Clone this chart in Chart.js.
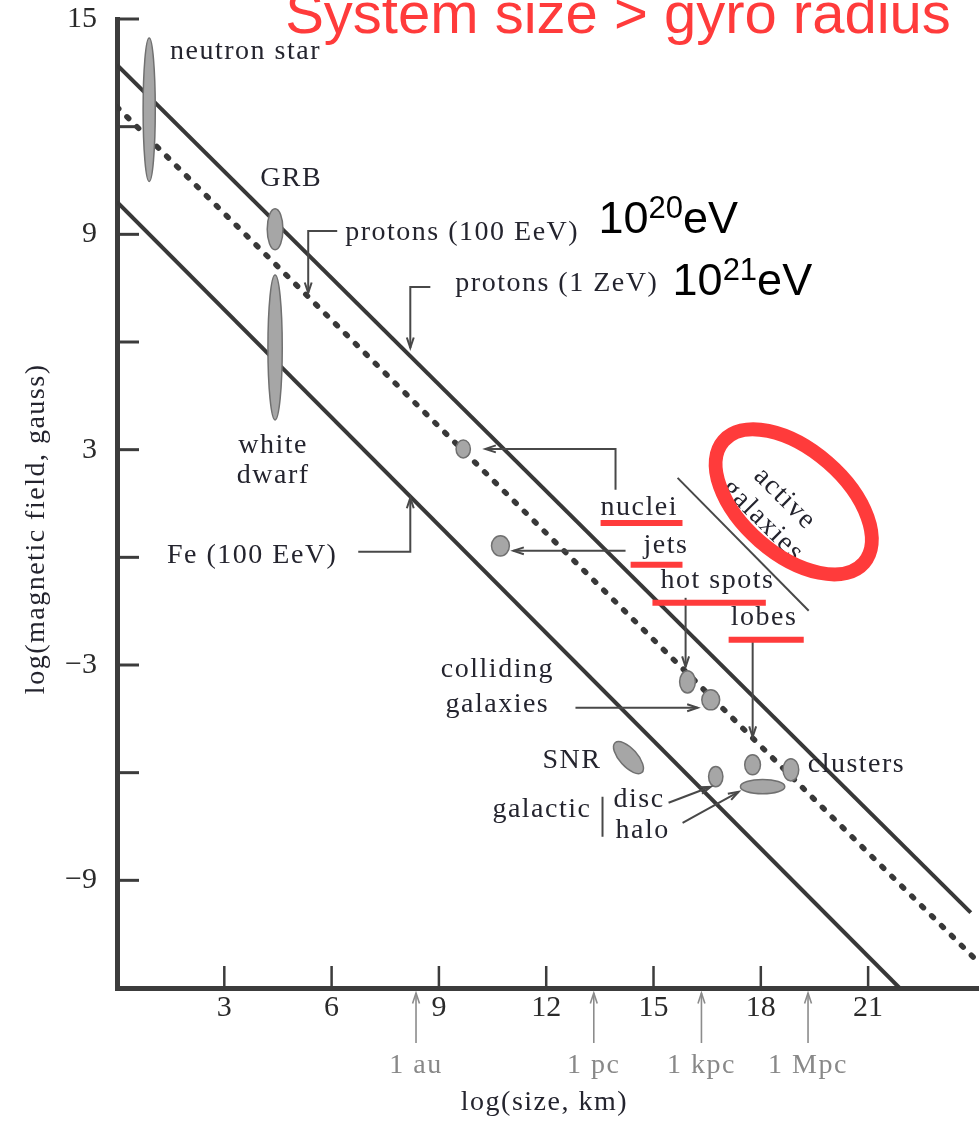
<!DOCTYPE html>
<html>
<head>
<meta charset="utf-8">
<script src="https://cdn.jsdelivr.net/npm/chart.js@4.4.1/dist/chart.umd.min.js"></script>
<style>
  html, body { margin: 0; padding: 0; background: #fff; }
  canvas { display: block; }
</style>
</head>
<body>
<canvas id="hillas" width="979" height="1121"></canvas>
<script>
// Hillas diagram: size of candidate accelerators against their magnetic field

// Axis ticks
const xTickValues = [3, 6, 9, 12, 15, 18, 21];
const xTickLabels = ['3', '6', '9', '12', '15', '18', '21'];
const yTickValues = [15, 12, 9, 6, 3, 0, -3, -6, -9];
const yTickLabels = ['15', '', '9', '', '3', '', '\u22123', '', '\u22129'];

// Maximum-energy lines, end points as [log size, log B]
const protons1ZeV   = [[0, 13.72], [23.87, -9.90]];
const protons100EeV = [[0, 12.55], [24.0, -11.2]];
const iron100EeV    = [[0, 9.9], [21.88, -12]];

// Source classes: centre and half-extent in log size / log B, tilt in degrees
const sourceNames = ['neutron star', 'GRB', 'white dwarf', 'nuclei', 'jets', 'hot spots',
                     'colliding galaxies', 'SNR', 'disc', 'halo', 'lobes', 'clusters'];
const sourceX     = [0.90, 4.42, 4.42, 9.68, 10.72, 15.95, 16.60, 14.30, 16.74, 18.05, 17.77, 18.84];
const sourceY     = [12.47, 9.14, 5.85, 3.02, 0.32, -3.47, -3.97, -5.58, -6.11, -6.39, -5.78, -5.92];
const sourceHalfX = [0.17, 0.22, 0.20, 0.20, 0.25, 0.22, 0.25, 0.56, 0.20, 0.62, 0.22, 0.22];
const sourceHalfY = [2.00, 0.57, 2.02, 0.25, 0.28, 0.31, 0.28, 0.25, 0.28, 0.20, 0.28, 0.31];
const sourceTilt  = [0, 0, 0, 0, 0, 0, 0, 48, 0, 0, 0, 0];

// Reference length scales on the size axis
const unitValues = [8.36, 13.33, 16.34, 19.32];
const unitLabels = ['1 au', '1 pc', '1 kpc', '1 Mpc'];

const TEXT = '#24242e';
const INK = '#383838';
const LEADER = '#484848';
const RED = '#ff3b3b';
const SERIF = '"Liberation Serif", "Times New Roman", serif';
const SANS = '"Liberation Sans", Arial, sans-serif';

// Text labels placed in data coordinates (left edge / centre, baseline)
const labelNotes = [
  { text: 'neutron star', x: 1.483, y: 13.886 },
  { text: 'GRB', x: 4.002, y: 10.348 },
  { text: 'protons (100 EeV)', x: 6.381, y: 8.844 },
  { text: 'protons (1 ZeV)', x: 9.46, y: 7.423 },
  { text: 'white', x: 4.366, y: 2.911, align: 'center' },
  { text: 'dwarf', x: 4.366, y: 2.075, align: 'center' },
  { text: 'Fe (100 EeV)', x: 1.399, y: -0.153 },
  { text: 'nuclei', x: 13.518, y: 1.184 },
  { text: 'jets', x: 14.72, y: 0.125 },
  { text: 'hot spots', x: 15.197, y: -0.85 },
  { text: 'lobes', x: 17.16, y: -1.88 },
  { text: 'colliding', x: 10.635, y: -3.329, align: 'center' },
  { text: 'galaxies', x: 10.635, y: -4.304, align: 'center' },
  { text: 'SNR', x: 11.895, y: -5.864 },
  { text: 'galactic', x: 10.495, y: -7.228 },
  { text: 'disc', x: 13.882, y: -6.95 },
  { text: 'halo', x: 13.938, y: -7.813 },
  { text: 'clusters', x: 19.311, y: -5.975 },
  { text: 'active', x: 18.668, y: 1.63, align: 'center', baseline: 'middle', angle: 45 },
  { text: 'galaxies', x: 18.052, y: 1.017, align: 'center', baseline: 'middle', angle: 45 }
];

// Leader lines from labels to the marks they name
const leaders = [
  { pts: [[6.157, 9.095], [5.346, 9.095], [5.346, 7.368]], head: true },
  { pts: [[8.76, 7.535], [8.2, 7.535], [8.2, 5.836]], head: true },
  { pts: [[6.745, 0.153], [8.2, 0.153], [8.2, 1.657]], head: true },
  { pts: [[13.938, 1.88], [13.938, 3.022], [10.3, 3.022]], head: true },
  { pts: [[14.218, 0.181], [11.083, 0.181]], head: true },
  { pts: [[15.897, -1.128], [15.897, -3.05]], head: true },
  { pts: [[17.772, -2.298], [17.772, -5.0]], head: true },
  { pts: [[12.818, -4.192], [16.233, -4.192]], head: true },
  { pts: [[15.421, -6.838], [16.597, -6.393]], head: true },
  { pts: [[15.813, -7.396], [17.38, -6.532]], head: true },
  { pts: [[13.574, -6.671], [13.574, -7.786]], head: false },
  { pts: [[15.673, 2.214], [19.339, -1.49]], head: false }
];

// Hand-drawn highlights
const redUnderlines = [[13.52, 15.81, 0.96], [14.36, 15.81, -0.209], [14.97, 18.14, -1.267], [17.10, 19.20, -2.298]];
const redRing = { x: 18.92, y: 1.546, rx: 2.6, ry: 1.45, angle: 41 };

function toPoints(pairs) { return pairs.map(([x, y]) => ({ x, y })); }

function arrowHead(ctx, x0, y0, x1, y1) {
  const a = Math.atan2(y1 - y0, x1 - x0);
  const len = 11, spread = 0.32;
  ctx.beginPath();
  ctx.moveTo(x1 - len * Math.cos(a - spread), y1 - len * Math.sin(a - spread));
  ctx.lineTo(x1, y1);
  ctx.lineTo(x1 - len * Math.cos(a + spread), y1 - len * Math.sin(a + spread));
  ctx.stroke();
}

const hillasPlugin = {
  id: 'hillasDecor',
  afterDatasetsDraw(chart) {
    const { ctx, scales: { x, y }, chartArea } = chart;
    const px = v => x.getPixelForValue(v);
    const py = v => y.getPixelForValue(v);
    const ux = px(1) - px(0);
    const uy = py(0) - py(1);
    ctx.save();

    // inward tick marks
    ctx.strokeStyle = '#3c3c3c';
    ctx.lineWidth = 3;
    yTickValues.forEach(v => {
      ctx.beginPath();
      ctx.moveTo(chartArea.left, py(v));
      ctx.lineTo(chartArea.left + 22, py(v));
      ctx.stroke();
    });
    ctx.lineWidth = 2.5;
    xTickValues.forEach(v => {
      ctx.beginPath();
      ctx.moveTo(px(v), chartArea.bottom);
      ctx.lineTo(px(v), chartArea.bottom - 22);
      ctx.stroke();
    });

    // source regions
    ctx.fillStyle = '#a6a6a6';
    ctx.strokeStyle = '#707070';
    ctx.lineWidth = 1.5;
    sourceNames.forEach((name, i) => {
      ctx.beginPath();
      ctx.ellipse(px(sourceX[i]), py(sourceY[i]), sourceHalfX[i] * ux, sourceHalfY[i] * uy,
                  sourceTilt[i] * Math.PI / 180, 0, Math.PI * 2);
      ctx.fill();
      ctx.stroke();
    });

    // leaders
    ctx.strokeStyle = LEADER;
    ctx.lineWidth = 2;
    ctx.lineJoin = 'miter';
    leaders.forEach(l => {
      const p = l.pts.map(([a, b]) => [px(a), py(b)]);
      ctx.beginPath();
      ctx.moveTo(p[0][0], p[0][1]);
      p.slice(1).forEach(q => ctx.lineTo(q[0], q[1]));
      ctx.stroke();
      if (l.head) {
        const n = p.length;
        arrowHead(ctx, p[n - 2][0], p[n - 2][1], p[n - 1][0], p[n - 1][1]);
      }
    });

    // labels
    ctx.fillStyle = TEXT;
    ctx.font = '28px ' + SERIF;
    ctx.letterSpacing = '1.5px';
    labelNotes.forEach(n => {
      ctx.save();
      ctx.translate(px(n.x), py(n.y));
      if (n.angle) ctx.rotate(n.angle * Math.PI / 180);
      ctx.textAlign = n.align || 'left';
      ctx.textBaseline = n.baseline || 'alphabetic';
      ctx.fillText(n.text, 0, 0);
      ctx.restore();
    });

    // axis titles
    ctx.textAlign = 'center';
    ctx.textBaseline = 'alphabetic';
    ctx.fillText('log(size, km)', px(11.95), chartArea.bottom + 122);
    ctx.save();
    ctx.translate(44, py(0.794));
    ctx.rotate(-Math.PI / 2);
    ctx.fillText('log(magnetic field, gauss)', 0, 0);
    ctx.restore();

    // reference length scales under the axis
    ctx.strokeStyle = '#8c8c8c';
    ctx.fillStyle = '#888888';
    ctx.lineWidth = 1.6;
    unitValues.forEach((v, i) => {
      const xp = px(v);
      ctx.beginPath();
      ctx.moveTo(xp, chartArea.bottom + 55);
      ctx.lineTo(xp, chartArea.bottom + 5);
      ctx.stroke();
      arrowHead(ctx, xp, chartArea.bottom + 55, xp, chartArea.bottom + 5);
      ctx.fillText(unitLabels[i], xp, chartArea.bottom + 85);
    });
    ctx.letterSpacing = '0px';

    // red highlights
    ctx.strokeStyle = RED;
    ctx.lineWidth = 6;
    ctx.lineCap = 'butt';
    redUnderlines.forEach(([a, b, c]) => {
      ctx.beginPath();
      ctx.moveTo(px(a), py(c));
      ctx.lineTo(px(b), py(c));
      ctx.stroke();
    });
    ctx.lineWidth = 14;
    ctx.beginPath();
    ctx.ellipse(px(redRing.x), py(redRing.y), redRing.rx * ux, redRing.ry * uy,
                redRing.angle * Math.PI / 180, 0, Math.PI * 2);
    ctx.stroke();

    ctx.fillStyle = RED;
    ctx.textAlign = 'left';
    ctx.font = '58px ' + SANS;
    ctx.fillText('System size > gyro radius', px(4.702), py(14.61));

    // energy captions
    ctx.fillStyle = '#000';
    const energy = (mant, exp, xv, yv) => {
      let xp = px(xv);
      const yp = py(yv);
      ctx.font = '45px ' + SANS;
      ctx.fillText(mant, xp, yp);
      xp += ctx.measureText(mant).width;
      ctx.font = '31px ' + SANS;
      ctx.fillText(exp, xp, yp - 15);
      xp += ctx.measureText(exp).width;
      ctx.font = '45px ' + SANS;
      ctx.fillText('eV', xp, yp);
    };
    energy('10', '20', 13.462, 9.039);
    energy('10', '21', 15.533, 7.312);

    ctx.restore();
  }
};

const tickFont = { family: SERIF, size: 30 };

new Chart(document.getElementById('hillas'), {
  type: 'scatter',
  data: {
    datasets: [
      { label: 'protons (1 ZeV)', data: toPoints(protons1ZeV), showLine: true,
        borderColor: INK, borderWidth: 4, pointRadius: 0 },
      { label: 'protons (100 EeV)', data: toPoints(protons100EeV), showLine: true,
        borderColor: INK, borderWidth: 5.5, borderDash: [2.5, 11.5], borderCapStyle: 'round', pointRadius: 0 },
      { label: 'Fe (100 EeV)', data: toPoints(iron100EeV), showLine: true,
        borderColor: INK, borderWidth: 4, pointRadius: 0 }
    ]
  },
  options: {
    responsive: false,
    animation: false,
    devicePixelRatio: 1,
    layout: { padding: { top: 19, right: 0, bottom: 0, left: 0 } },
    plugins: { legend: { display: false }, tooltip: { enabled: false } },
    scales: {
      x: {
        type: 'linear', min: 0, max: 24.1,
        afterBuildTicks: s => { s.ticks = xTickValues.map(v => ({ value: v })); },
        afterFit: s => { s.height = 133; s.paddingLeft = 0; s.paddingRight = 0; },
        grid: { display: false, drawTicks: false },
        border: { display: true, width: 5, color: '#3c3c3c' },
        ticks: { font: tickFont, color: '#2a2a2a', padding: 2, autoSkip: false, maxRotation: 0,
                 callback: (v, i) => xTickLabels[i] }
      },
      y: {
        type: 'linear', min: -12, max: 15,
        afterBuildTicks: s => { s.ticks = yTickValues.map(v => ({ value: v })); },
        afterFit: s => { s.width = 117; s.paddingTop = 0; s.paddingBottom = 0; },
        grid: { display: false, drawTicks: false },
        border: { display: true, width: 5, color: '#3c3c3c' },
        ticks: { font: tickFont, color: '#2a2a2a', padding: 20, autoSkip: false,
                 callback: (v, i) => yTickLabels[i] }
      }
    }
  },
  plugins: [hillasPlugin]
});
</script>
</body>
</html>
